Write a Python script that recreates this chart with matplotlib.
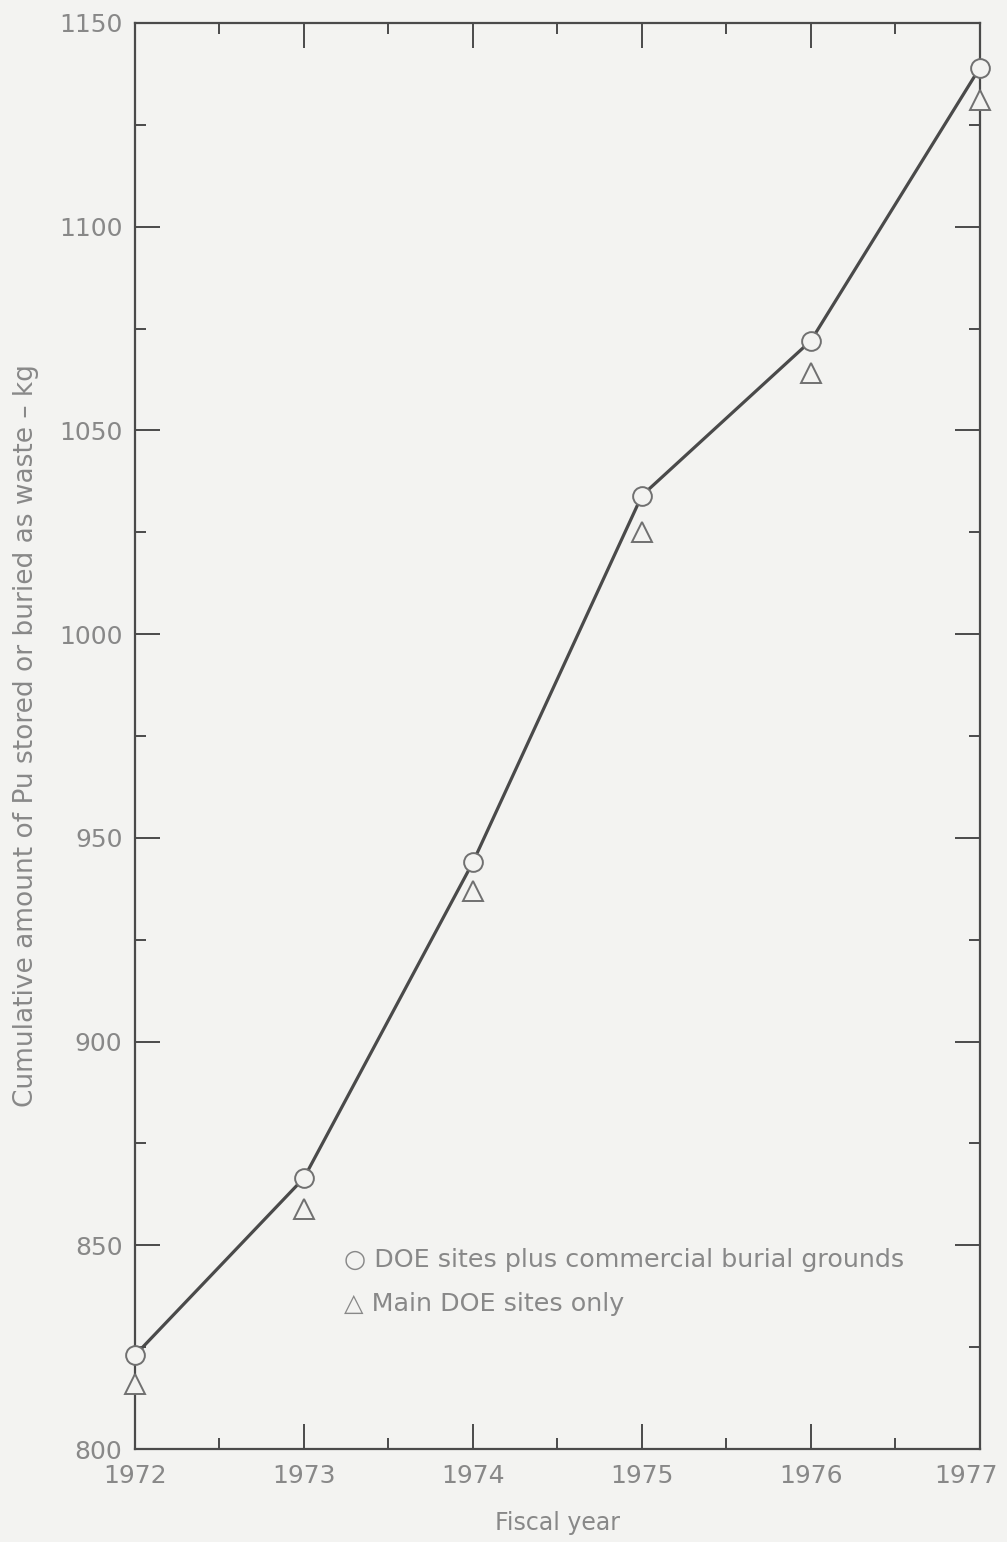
import matplotlib
matplotlib.use("Agg")
import matplotlib.pyplot as plt
from matplotlib.ticker import MultipleLocator, FormatStrFormatter
from matplotlib.transforms import ScaledTranslation

years = [1972, 1973, 1974, 1975, 1976, 1977]
doe_plus_commercial = [823, 866.5, 944, 1034, 1072, 1139]
main_doe_only = [816, 859, 937, 1025, 1064, 1131]

bg = "#f3f3f1"
ink = "#4a4a4a"
txt = "#888888"

plt.rcParams['font.family'] = ['DejaVu Sans']

fig = plt.figure(figsize=(10.07, 15.42), dpi=100, facecolor=bg)
ax = fig.add_axes([0.134, 0.0603, 0.839, 0.9248], facecolor=bg)

ax.plot(years, doe_plus_commercial, color=ink, lw=2.3, marker='o', ms=13.5,
        mfc=bg, mec="#707070", mew=1.4, clip_on=False, zorder=3)
ax.plot(years, main_doe_only, ls='none', marker='^', ms=14.5,
        mfc=bg, mec="#707070", mew=1.4, clip_on=False, zorder=3)

ax.set_xlim(1972, 1977)
ax.set_ylim(800, 1150)
ax.xaxis.set_major_locator(MultipleLocator(1))
ax.xaxis.set_minor_locator(MultipleLocator(0.5))
ax.yaxis.set_major_locator(MultipleLocator(50))
ax.yaxis.set_minor_locator(MultipleLocator(25))
ax.xaxis.set_major_formatter(FormatStrFormatter('%d'))

for s in ax.spines.values():
    s.set_color(ink)
    s.set_linewidth(1.6)

ax.tick_params(which='both', direction='in', top=True, right=True,
               color=ink, width=1.4, labelcolor=txt, labelsize=18)
ax.tick_params(which='major', length=18)
ax.tick_params(which='minor', length=8)
ax.tick_params(axis='y', pad=9)
ax.tick_params(axis='x', pad=11)

ax.set_xlabel("Fiscal year", color=txt, fontsize=17, labelpad=16)
ax.set_ylabel("Cumulative amount of Pu stored or buried as waste \u2013 kg",
              color=txt, fontsize=19, labelpad=14)

ax.text(1973.24, 846.5, "\u25CB DOE sites plus commercial burial grounds",
        color=txt, fontsize=18.3, va='center', ha='left')
ax.text(1973.24, 835.5, "\u25B3 Main DOE sites only",
        color=txt, fontsize=18.3, va='center', ha='left')

fig.canvas.draw()
last = ax.get_xticklabels()[-1]
for lab in ax.get_xticklabels():
    if lab.get_text() == "1977":
        lab.set_transform(lab.get_transform() +
                          ScaledTranslation(-10 / 72, 0, fig.dpi_scale_trans))

fig.savefig("out.png", dpi=100, facecolor=bg)
